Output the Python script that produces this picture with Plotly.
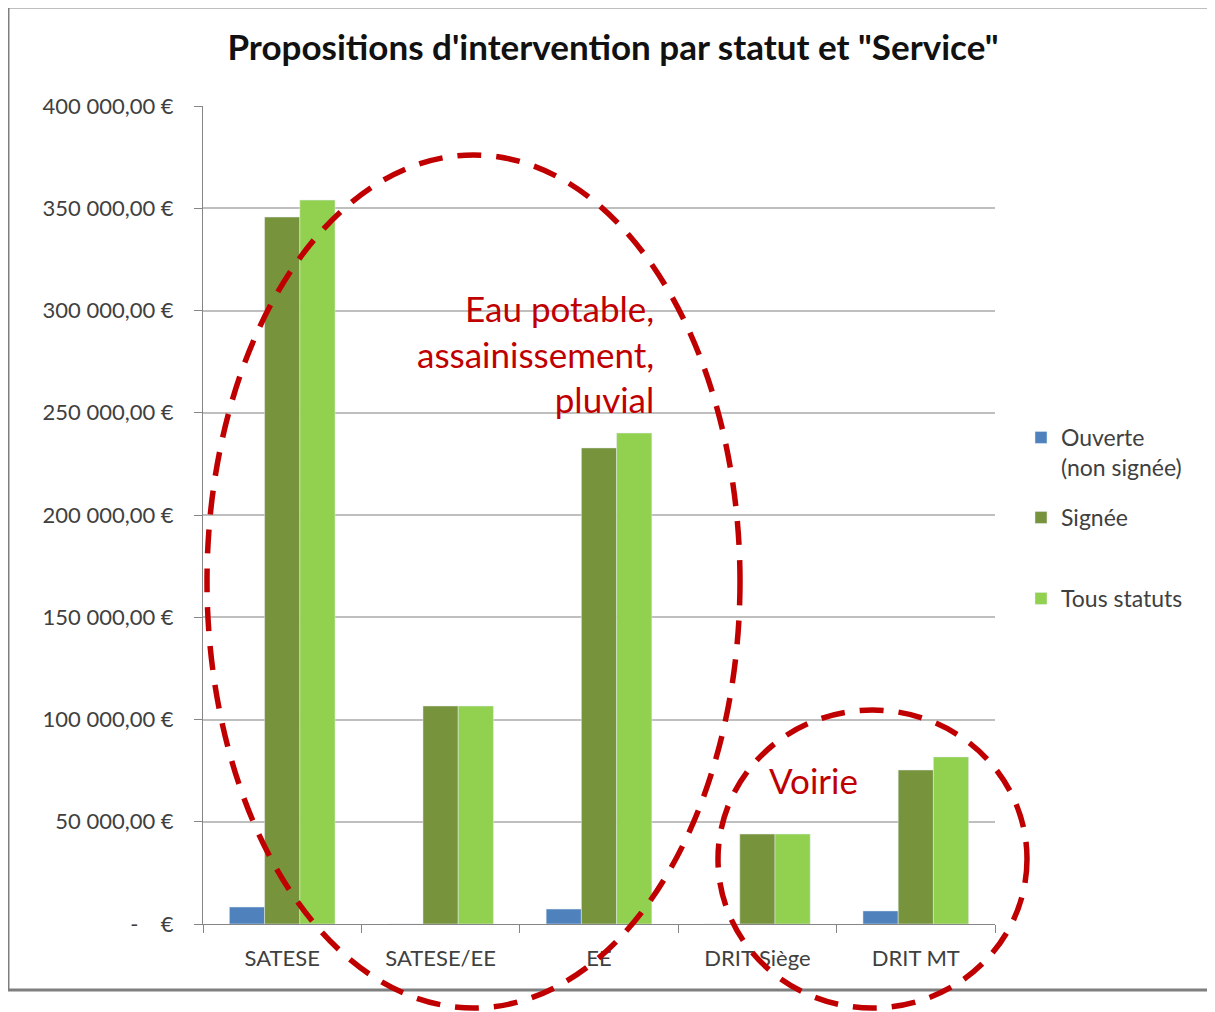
import plotly.graph_objects as go

# Data
services = ["SATESE", "SATESE/EE", "EE", "DRIT Siège", "DRIT MT"]
ouverte = [8300, 0, 7300, 0, 6400]
signee = [345700, 106600, 232800, 44000, 75300]
tous_statuts = [354000, 106600, 240100, 44000, 81700]

y_tickvals = [0, 50000, 100000, 150000, 200000, 250000, 300000, 350000, 400000]
y_ticktext = ["-\u00a0\u00a0\u00a0\u00a0€", "50\u00a0000,00\u00a0€", "100\u00a0000,00\u00a0€",
              "150\u00a0000,00\u00a0€", "200\u00a0000,00\u00a0€", "250\u00a0000,00\u00a0€",
              "300\u00a0000,00\u00a0€", "350\u00a0000,00\u00a0€", "400\u00a0000,00\u00a0€"]

OFF = 8  # page body margin
W, H = 1215 - OFF, 1012 - OFF
L, R, T, B = 203, 995, 106, 924  # plot area, screen pixels


def px(x):
    return (x - L) / (R - L)


def py(y):
    return (B - y) / (B - T)


FONT = "Lato, 'Open Sans', sans-serif"
GREY_TXT = "#404040"
RED = "#C00000"

fig = go.Figure()

fig.add_trace(go.Bar(x=services, y=ouverte, name="Ouverte<br>(non signée)",
                     marker_color="#4F81BD", legend="legend"))
fig.add_trace(go.Bar(x=services, y=signee, name="Signée",
                     marker_color="#77933C", legend="legend2"))
fig.add_trace(go.Bar(x=services, y=tous_statuts, name="Tous statuts",
                     marker_color="#92D050", legend="legend3"))

legend_style = dict(xanchor="left", yanchor="top", bgcolor="rgba(0,0,0,0)",
                    font=dict(family=FONT, size=23, color=GREY_TXT),
                    itemwidth=30, valign="top")

fig.update_layout(
    width=W, height=H,
    margin=dict(l=L - OFF, r=W - (R - OFF), t=T - OFF, b=H - (B - OFF)),
    paper_bgcolor="white", plot_bgcolor="white",
    showlegend=True,
    barmode="group", bargap=0.333, bargroupgap=0,
    font=dict(family=FONT, color=GREY_TXT),
    title=dict(text="<b>Propositions d'intervention par statut et \"Service\"</b>",
               x=(613 - OFF) / W, xref="container", xanchor="center",
               y=1 - (48 - OFF) / H, yref="container", yanchor="middle",
               font=dict(family=FONT, size=35, color="#111111")),
    legend=dict(x=px(1021), y=py(416), **legend_style),
    legend2=dict(x=px(1021), y=py(496), **legend_style),
    legend3=dict(x=px(1021), y=py(577), **legend_style),
    xaxis=dict(showline=True, linecolor="#868686", linewidth=1,
               ticks="outside", tickson="boundaries", ticklen=8, tickcolor="#868686",
               tickfont=dict(family=FONT, size=22, color=GREY_TXT),
               ticklabelstandoff=15, showgrid=False),
    yaxis=dict(range=[0, 400000], tickvals=y_tickvals, ticktext=y_ticktext,
               showline=True, linecolor="#868686", linewidth=1,
               ticks="outside", ticklen=8, tickcolor="#868686",
               showgrid=True, gridcolor="#BFBFBF", gridwidth=1.5, zeroline=False,
               tickfont=dict(family=FONT, size=22, color=GREY_TXT),
               ticklabelstandoff=16),
)

# Chart frame (Excel chart area border)
fig.add_shape(type="rect", xref="paper", yref="paper",
              x0=px(8), x1=px(1230), y0=py(990), y1=py(7),
              line=dict(color="#7F7F7F", width=3), layer="below")

# Red dashed ellipses
dash = "24px,15px"
fig.add_shape(type="circle", xref="paper", yref="paper",
              x0=px(207), x1=px(740), y0=py(1008), y1=py(155),
              line=dict(color=RED, width=5.5, dash=dash))
fig.add_shape(type="circle", xref="paper", yref="paper",
              x0=px(718), x1=px(1027), y0=py(1008), y1=py(710),
              line=dict(color=RED, width=5.5, dash=dash))

fig.add_annotation(text="Eau potable,<br>assainissement,<br>pluvial",
                   xref="paper", yref="paper", x=px(656), y=py(353),
                   xanchor="right", yanchor="middle", align="right", showarrow=False,
                   font=dict(family=FONT, size=35, color=RED))
fig.add_annotation(text="Voirie", xref="paper", yref="paper", x=px(813), y=py(780),
                   xanchor="center", yanchor="middle", showarrow=False,
                   font=dict(family=FONT, size=35, color=RED))

fig.write_html("out.html")
